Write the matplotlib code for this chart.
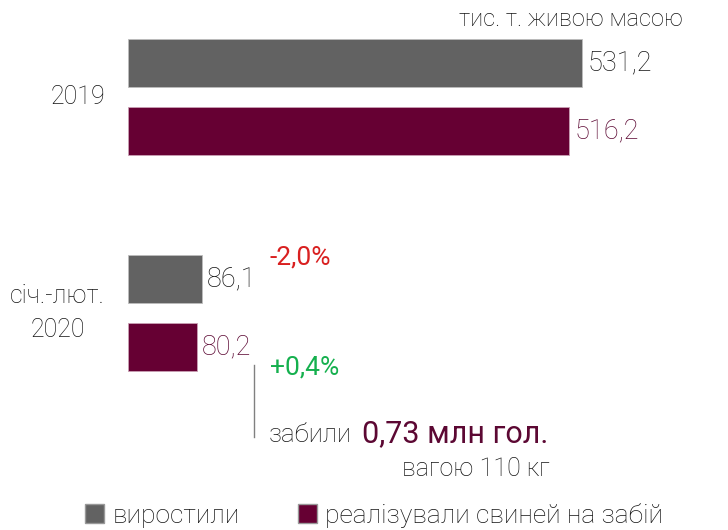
import matplotlib.pyplot as plt
from matplotlib.patches import Patch

# --- DATA ---
periods = ["2019", "січ.-лют.\n2020"]
grown = [531.2, 86.1]
slaughtered = [516.2, 80.2]
grown_labels = ["531,2", "86,1"]
slaughtered_labels = ["516,2", "80,2"]
series_names = ["виростили", "реалізували свиней на забій"]
change_grown = "-2,0%"
change_slaughtered = "+0,4%"
unit = "тис. т. живою масою"
note_lead = "забили"
note_value = "0,73 млн гол."
note_tail = "вагою 110 кг"

# --- STYLE ---
GREY = "#626262"
MAROON = "#660033"
MAROON_TXT = "#5c0833"
TEXT = "#141414"
RED = "#d92020"
GREEN = "#15b04e"
plt.rcParams["font.family"] = ["Roboto", "DejaVu Sans"]
plt.rcParams["font.weight"] = "light"

W, H = 728, 530
PX_PER_UNIT = 454 / 531.2          # bar scale
X0 = 128                           # pixel where bars start
group_y = [97, 313]                # vertical group centres (pixels from top)
offset = 34
bar_h = 48

fig = plt.figure(figsize=(W / 100, H / 100), dpi=100)
ax = fig.add_axes([0, 0, 1, 1])
ax.set_xlim(-X0 / PX_PER_UNIT, (W - X0) / PX_PER_UNIT)
ax.set_ylim(H, 0)
ax.axis("off")

y_grown = [g - offset for g in group_y]
y_slaug = [g + offset for g in group_y]
ax.barh(y_grown, grown, height=bar_h, color=GREY, edgecolor="#bdbdbd", linewidth=0.6)
ax.barh(y_slaug, slaughtered, height=bar_h, color=MAROON, edgecolor="#c9a0b4", linewidth=0.6)

for y, v, s in zip(y_grown, grown, grown_labels):
    ax.annotate(s, (v, y), xytext=(4, 0), textcoords="offset points",
                va="center", ha="left", fontsize=19.5, color=TEXT)
for y, v, s in zip(y_slaug, slaughtered, slaughtered_labels):
    ax.annotate(s, (v, y), xytext=(4, 0), textcoords="offset points",
                va="center", ha="left", fontsize=19.5, color=MAROON_TXT)


def px(x):
    return (x - X0) / PX_PER_UNIT


# period labels
for g, lbl in zip(group_y, periods):
    ax.text(px(105), g, lbl, ha="right", va="center", multialignment="center",
            fontsize=18, color=TEXT, linespacing=1.5)

ax.text(px(683), 20, unit, ha="right", va="center", fontsize=17, color=TEXT)

# changes
ax.text(px(270), 257, change_grown, ha="left", va="center", fontsize=19,
        color=RED, fontweight="normal")
ax.text(px(270), 367, change_slaughtered, ha="left", va="center", fontsize=19,
        color=GREEN, fontweight="normal")

# connector + note
ax.plot([px(254), px(254)], [365, 437], color="#808080", lw=1)
ax.text(px(269), 442, note_lead, ha="left", va="baseline", fontsize=18.5, color=TEXT)
ax.text(px(362), 442, note_value, ha="left", va="baseline", fontsize=22,
        color=MAROON_TXT, fontweight="normal")
ax.text(px(550), 476, note_tail, ha="right", va="baseline", fontsize=18, color=TEXT)

handles = [Patch(facecolor=GREY, edgecolor="#999999"),
           Patch(facecolor=MAROON, edgecolor="#999999")]
fig.legend(handles, series_names, loc="center", bbox_to_anchor=(374 / W, 1 - 515 / H),
           ncol=2, frameon=False, fontsize=19, handlelength=0.75, handleheight=0.75,
           handletextpad=0.3, columnspacing=2.2, labelcolor=TEXT)

fig.savefig("out.png", dpi=100)
